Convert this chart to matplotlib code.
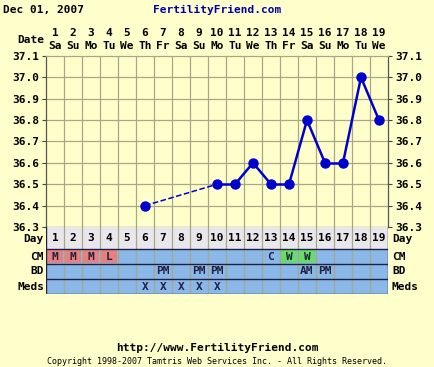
import matplotlib
matplotlib.use("Agg")
import matplotlib.pyplot as plt
import numpy as np
from matplotlib.patches import Rectangle

plt.rcParams['font.family'] = 'DejaVu Sans Mono'
plt.rcParams['font.weight'] = 'bold'

days = list(range(1, 20))
weekdays = ['Sa', 'Su', 'Mo', 'Tu', 'We', 'Th', 'Fr', 'Sa', 'Su', 'Mo',
            'Tu', 'We', 'Th', 'Fr', 'Sa', 'Su', 'Mo', 'Tu', 'We']
temp_days = [6, 10, 11, 12, 13, 14, 15, 16, 17, 18, 19]
temps = [36.4, 36.5, 36.5, 36.6, 36.5, 36.5, 36.8, 36.6, 36.6, 37.0, 36.8]
y_ticks = [36.3, 36.4, 36.5, 36.6, 36.7, 36.8, 36.9, 37.0, 37.1]
cm = ['M', 'M', 'M', 'L', '', '', '', '', '', '', '', '', 'C', 'W', 'W', '', '', '', '']
bd = ['', '', '', '', '', '', 'PM', '', 'PM', 'PM', '', '', '', '', 'AM', 'PM', '', '', '']
meds = ['', '', '', '', '', 'X', 'X', 'X', 'X', 'X', '', '', '', '', '', '', '', '', '']
row_names = ['CM', 'BD', 'Meds']

BG = '#ffffcc'
GRID = '#a8a888'
BLUE = '#0000cc'
FS = 8.0
W, H = 434, 367

fig = plt.figure(figsize=(W / 100, H / 100), dpi=100, facecolor=BG)


def px_axes(x0, y0, x1, y1):
    return fig.add_axes([x0 / W, 1 - y1 / H, (x1 - x0) / W, (y1 - y0) / H])


# temperature chart
ax = px_axes(46, 56, 388, 227)
ax.set_facecolor(BG)
ax.set_xlim(0.5, 19.5)
ax.set_ylim(36.3, 37.1)
for d in np.arange(1.5, 19.5, 1):
    ax.axvline(d, color=GRID, lw=0.9, zorder=1)
for t in y_ticks[1:-1]:
    ax.axhline(t, color=GRID, lw=0.9, zorder=1)
ax.set_xticks([])
ax.set_yticks(y_ticks)
ax.set_yticklabels([f'{t:.1f}' for t in y_ticks], fontsize=FS)
ax.tick_params(axis='y', length=3, width=0.8, color='#444444', pad=2,
               right=True, labelright=True)
for s in ax.spines.values():
    s.set_color('#555555')
    s.set_linewidth(0.9)
ax.spines['top'].set_color(GRID)

for i in range(len(temp_days) - 1):
    style = '--' if temp_days[i + 1] - temp_days[i] > 1 else '-'
    lw = 1.1 if style == '--' else 1.8
    ax.plot(temp_days[i:i + 2], temps[i:i + 2], color=BLUE, ls=style, lw=lw, zorder=3)
ax.plot(temp_days, temps, 'o', color=BLUE, ms=6.5, zorder=4)

# date header
for d, wd in zip(days, weekdays):
    fig.text((46 + (d - 0.5) * 18) / W, 1 - 33 / H, str(d), ha='center', va='center', fontsize=FS)
    fig.text((46 + (d - 0.5) * 18) / W, 1 - 46 / H, wd, ha='center', va='center', fontsize=FS)
fig.text(44 / W, 1 - 40 / H, 'Date', ha='right', va='center', fontsize=FS)

# table
tab = px_axes(46, 227, 388, 294)
tab.set_xlim(0.5, 19.5)
tab.set_ylim(67, 0)
tab.axis('off')
tab.add_patch(Rectangle((0.5, 0), 19, 22, facecolor='#e8e8ec', edgecolor='none'))
tab.add_patch(Rectangle((0.5, 22), 19, 45, facecolor='#8ab8e8', edgecolor='none'))
for d in np.arange(1.5, 19.5, 1):
    tab.plot([d, d], [0, 67], color=GRID, lw=0.9)
for yy in [22, 37, 52, 67]:
    tab.plot([0.5, 19.5], [yy, yy], color='#202040', lw=1.0)
tab.plot([0.5, 0.5], [0, 67], color='#202040', lw=1.0)
tab.plot([19.5, 19.5], [0, 67], color='#202040', lw=1.0)

for d in days:
    tab.text(d, 11.5, str(d), ha='center', va='center', fontsize=FS)
for d, c in zip(days, cm):
    if c in ('M', 'L'):
        tab.add_patch(Rectangle((d - 0.45, 23.5), 0.9, 12, facecolor='#e88080', edgecolor='none'))
    elif c == 'W':
        tab.add_patch(Rectangle((d - 0.45, 23.5), 0.9, 12, facecolor='#66dd66', edgecolor='none'))
    if c:
        tab.text(d, 29.5, c, ha='center', va='center', fontsize=FS, color='#202040')
for d, b in zip(days, bd):
    if b:
        tab.text(d, 44.5, b, ha='center', va='center', fontsize=FS, color='#202040')
for d, m in zip(days, meds):
    if m:
        tab.text(d, 59.5, m, ha='center', va='center', fontsize=FS, color='#202040')

fig.text(44 / W, 1 - 239.5 / H, 'Day', ha='right', va='center', fontsize=FS)
fig.text(392 / W, 1 - 239.5 / H, 'Day', ha='left', va='center', fontsize=FS)
for name, yc in zip(row_names, [256.5, 271.5, 286.5]):
    fig.text(44 / W, 1 - yc / H, name, ha='right', va='center', fontsize=FS)
    fig.text(392 / W, 1 - yc / H, name, ha='left', va='center', fontsize=FS)

# titles and footer
fig.text(3 / W, 1 - 10 / H, 'Dec 01, 2007', ha='left', va='center', fontsize=FS)
fig.text(217 / W, 1 - 10 / H, 'FertilityFriend.com', ha='center', va='center',
         fontsize=FS, color='#0000aa')
fig.text(217 / W, 1 - 348 / H, 'http://www.FertilityFriend.com', ha='center', va='center', fontsize=FS)
fig.text(217 / W, 1 - 362 / H, 'Copyright 1998-2007 Tamtris Web Services Inc. - All Rights Reserved.',
         ha='center', va='center', fontsize=6.0, fontweight='normal')

fig.savefig('out.png', dpi=100, facecolor=BG)
